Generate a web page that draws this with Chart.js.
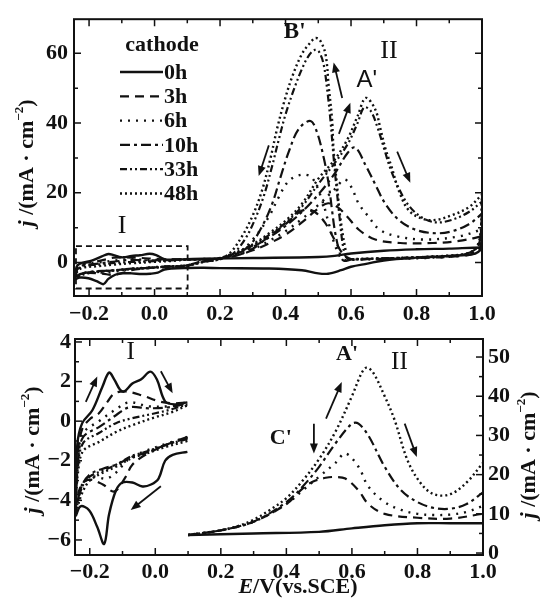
<!DOCTYPE html>
<html><head><meta charset="utf-8">
<script src="https://cdn.jsdelivr.net/npm/chart.js@4.4.1/dist/chart.umd.min.js"></script>
<style>
html,body{margin:0;padding:0;background:#fff;width:545px;height:601px;overflow:hidden}
canvas{position:absolute;left:0}
</style></head>
<body>
<canvas id="cTop" width="545" height="340" style="top:0px"></canvas>
<canvas id="cBot" width="545" height="281" style="top:320px"></canvas>
<script>
// ---------- series names and tick labels ----------
const SERIES = ['0h','3h','6h','10h','33h','48h'];
const BOT_SERIES = ['0h','3h','6h','10h','48h'];
const X_TICKS = [-0.2, 0.0, 0.2, 0.4, 0.6, 0.8, 1.0];
const X_MINOR = [-0.1, 0.1, 0.3, 0.5, 0.7, 0.9];
const TOP_Y_TICKS = [0, 20, 40, 60];
const TOP_Y_MINOR = [10, 30, 50];
const BOT_YL_TICKS = [-6, -4, -2, 0, 2, 4];
const BOT_YL_MINOR = [-5, -3, -1, 1, 3];
const BOT_YR_TICKS = [0, 10, 20, 30, 40, 50];
const BOT_YR_MINOR = [5, 15, 25, 35, 45];

// ---------- region I (E from -0.24 to 0.1 V), [E, j] ----------
const I_fwd_0h = [[-0.243,-4.4],[-0.238,-1.2],[-0.223,-0.1],[-0.192,0.55],[-0.161,1.75],[-0.141,2.45],[-0.125,2.1],[-0.108,1.6],[-0.095,1.5],[-0.07,1.9],[-0.044,2.1],[-0.015,2.5],[0.005,2.1],[0.03,1.0],[0.06,0.85],[0.098,0.95]];
const I_rev_0h = [[0.098,-1.55],[0.053,-1.7],[0.03,-2.0],[0.01,-2.9],[-0.013,-3.2],[-0.039,-3.3],[-0.07,-3.1],[-0.1,-3.1],[-0.12,-3.5],[-0.141,-4.7],[-0.156,-6.2],[-0.177,-5.35],[-0.202,-4.5],[-0.228,-4.3],[-0.243,-4.8]];
const I_fwd_3h = [[-0.243,-3.8],[-0.236,-1.5],[-0.223,-0.4],[-0.2,0.1],[-0.172,0.4],[-0.145,1.0],[-0.125,1.4],[-0.09,1.5],[-0.04,1.3],[0.012,1.0],[0.053,0.9],[0.098,0.95]];
const I_rev_3h = [[0.098,-0.8],[0.032,-1.2],[-0.03,-1.7],[-0.07,-2.2],[-0.09,-2.8],[-0.125,-3.55],[-0.16,-3.2],[-0.2,-2.95],[-0.225,-3.2],[-0.243,-4.2]];
const I_fwd_6h = [[-0.243,-4.0],[-0.236,-1.8],[-0.22,-0.6],[-0.172,0.0],[-0.12,0.6],[-0.08,0.95],[-0.02,0.75],[0.04,0.75],[0.098,0.9]];
const I_rev_6h = [[0.098,-0.8],[0.032,-1.15],[-0.03,-1.5],[-0.08,-1.9],[-0.12,-2.6],[-0.15,-2.9],[-0.19,-2.8],[-0.22,-3.1],[-0.243,-4.3]];
const I_fwd_10h = [[-0.243,-4.2],[-0.236,-2.0],[-0.22,-0.8],[-0.172,-0.3],[-0.12,0.3],[-0.08,0.7],[-0.02,0.65],[0.04,0.7],[0.098,0.9]];
const I_rev_10h = [[0.098,-0.85],[0.032,-1.2],[-0.03,-1.6],[-0.07,-1.8],[-0.12,-2.2],[-0.16,-2.4],[-0.2,-2.7],[-0.225,-3.3],[-0.243,-4.5]];
const I_fwd_33h = [[-0.243,-4.3],[-0.236,-2.3],[-0.22,-1.1],[-0.172,-0.6],[-0.12,-0.1],[-0.07,0.15],[0.0,0.4],[0.05,0.6],[0.098,0.85]];
const I_rev_33h = [[0.098,-0.9],[0.032,-1.2],[-0.03,-1.55],[-0.07,-1.75],[-0.12,-2.2],[-0.16,-2.5],[-0.2,-2.8],[-0.225,-3.4],[-0.243,-4.6]];
const I_fwd_48h = [[-0.243,-4.4],[-0.236,-2.6],[-0.22,-1.5],[-0.172,-1.05],[-0.12,-0.55],[-0.07,-0.2],[0.0,0.2],[0.05,0.45],[0.098,0.8]];
const I_rev_48h = [[0.098,-1.0],[0.032,-1.3],[-0.03,-1.65],[-0.07,-1.85],[-0.12,-2.3],[-0.16,-2.6],[-0.2,-3.0],[-0.225,-3.7],[-0.243,-4.7]];

// ---------- region II, upper panel (full cycle), [E, j] ----------
const II_fwd_0h = [[0.15,1.1],[0.3,1.3],[0.5,1.6],[0.55,1.9],[0.6,2.6],[0.7,3.4],[0.8,3.8],[0.9,4.0],[1.0,4.3]];
const II_rev_0h = [[1.0,4.0],[0.98,2.6],[0.9,1.9],[0.8,1.4],[0.7,0.6],[0.65,-0.3],[0.6,-1.2],[0.57,-2.2],[0.53,-3.2],[0.5,-3.1],[0.45,-2.2],[0.35,-1.7],[0.2,-1.6],[0.15,-1.5]];
const II_fwd_3h = [[0.15,1.0],[0.2,1.2],[0.25,2.0],[0.3,3.5],[0.35,5.5],[0.4,8.0],[0.45,11.5],[0.5,15.5],[0.53,17.0],[0.56,15.8],[0.59,13.0],[0.624,9.4],[0.674,6.6],[0.75,5.6],[0.85,5.6],[0.93,6.2],[1.0,7.5]];
const II_rev_3h = [[1.0,7.5],[0.99,3.5],[0.95,2.0],[0.8,1.3],[0.65,1.0],[0.6,1.0],[0.575,2.5],[0.55,6.5],[0.52,11.5],[0.49,14.5],[0.465,15.2],[0.44,14.3],[0.4,11.0],[0.35,7.5],[0.3,4.0],[0.25,2.0],[0.15,0.5]];
const II_fwd_6h = [[0.15,1.0],[0.2,1.1],[0.25,2.2],[0.3,3.8],[0.35,6.2],[0.4,9.0],[0.45,12.5],[0.5,16.5],[0.55,21.0],[0.58,23.8],[0.6,21.8],[0.624,16.8],[0.654,13.1],[0.685,9.6],[0.736,7.6],[0.825,6.6],[0.93,7.5],[1.0,9.5]];
const II_rev_6h = [[1.0,9.5],[0.99,4.0],[0.95,2.2],[0.85,1.4],[0.7,1.0],[0.6,0.8],[0.573,1.0],[0.552,4.7],[0.532,11.2],[0.512,17.8],[0.481,24.3],[0.45,25.2],[0.41,23.4],[0.379,18.7],[0.349,13.1],[0.308,7.5],[0.257,2.8],[0.2,1.0],[0.15,0.3]];
const II_fwd_10h = [[0.15,0.9],[0.2,1.2],[0.25,2.5],[0.3,4.5],[0.35,7.2],[0.4,10.5],[0.45,14.5],[0.5,19.5],[0.55,25.5],[0.59,31.5],[0.613,33.0],[0.644,28.0],[0.674,22.4],[0.705,16.8],[0.746,12.2],[0.797,9.4],[0.858,8.4],[0.909,9.0],[0.96,11.0],[1.0,14.0]];
const II_rev_10h = [[1.0,14.0],[0.99,5.0],[0.95,2.5],[0.85,1.6],[0.7,1.2],[0.6,0.8],[0.578,0.5],[0.568,1.9],[0.552,8.4],[0.542,15.0],[0.532,22.4],[0.517,29.9],[0.496,37.4],[0.476,40.6],[0.44,38.3],[0.41,31.8],[0.384,24.3],[0.359,16.8],[0.328,10.3],[0.288,4.7],[0.236,2.0],[0.18,0.8],[0.15,0.3]];
const II_fwd_33h = [[0.15,0.9],[0.2,1.3],[0.25,2.8],[0.3,4.9],[0.35,7.9],[0.4,11.4],[0.45,16.0],[0.5,22.5],[0.55,28.5],[0.59,34.0],[0.62,40.0],[0.64,44.5],[0.66,43.5],[0.68,39.0],[0.7,33.0],[0.72,27.0],[0.745,21.5],[0.775,16.5],[0.815,13.0],[0.86,11.5],[0.91,12.3],[0.96,14.5],[1.0,17.5]];
const II_rev_33h = [[1.0,17.5],[0.995,7.0],[0.98,3.8],[0.95,2.4],[0.9,1.9],[0.8,1.5],[0.7,1.2],[0.6,1.0],[0.585,1.5],[0.575,5.0],[0.565,13.0],[0.555,22.0],[0.546,31.0],[0.538,40.0],[0.528,49.0],[0.516,57.0],[0.502,60.5],[0.49,61.0],[0.472,59.5],[0.45,55.5],[0.425,49.5],[0.4,42.5],[0.38,35.5],[0.36,28.0],[0.335,19.5],[0.305,12.0],[0.275,6.5],[0.24,2.6],[0.2,0.9],[0.15,0.2]];
const II_fwd_48h = [[0.15,0.9],[0.2,1.3],[0.25,3.0],[0.3,5.2],[0.35,8.4],[0.4,12.0],[0.45,16.8],[0.5,24.0],[0.55,29.5],[0.59,35.5],[0.62,42.0],[0.645,47.2],[0.674,43.9],[0.69,38.3],[0.705,32.7],[0.725,27.1],[0.746,20.6],[0.776,15.0],[0.817,12.6],[0.858,12.2],[0.909,13.6],[0.96,15.9],[1.0,19.5]];
const II_rev_48h = [[1.0,19.5],[0.995,8.0],[0.98,4.0],[0.95,2.5],[0.9,2.0],[0.8,1.5],[0.7,1.2],[0.61,1.0],[0.593,0.8],[0.583,3.75],[0.567,13.1],[0.557,22.4],[0.547,31.8],[0.542,41.1],[0.532,50.4],[0.522,59.8],[0.505,63.8],[0.491,64.4],[0.475,63.0],[0.45,59.8],[0.42,53.2],[0.395,45.8],[0.374,38.3],[0.354,29.9],[0.328,20.6],[0.298,13.1],[0.267,7.5],[0.231,2.8],[0.196,0.95],[0.15,0.2]];

// ---------- region II, lower panel (anodic sweep, right axis), [E, j] ----------
const B_fwd_0h = [[0.1,4.6],[0.3,5.0],[0.5,5.4],[0.6,6.3],[0.7,7.1],[0.8,7.6],[0.9,7.6],[1.0,7.6]];
const B_fwd_3h = [[0.1,4.6],[0.2,5.8],[0.3,8.0],[0.4,12.5],[0.45,16.5],[0.48,18.2],[0.52,19.2],[0.55,19.4],[0.58,19.0],[0.62,16.0],[0.65,12.5],[0.7,10.0],[0.8,9.0],[0.9,8.8],[1.0,10.0]];
const B_fwd_6h = [[0.1,4.6],[0.2,5.8],[0.3,8.0],[0.4,12.5],[0.45,16.0],[0.5,19.5],[0.55,23.0],[0.58,25.4],[0.62,22.0],[0.65,17.0],[0.7,13.0],[0.75,11.0],[0.8,10.0],[0.85,9.7],[0.9,9.8],[0.95,10.5],[1.0,12.0]];
const B_fwd_10h = [[0.1,4.6],[0.2,5.8],[0.3,8.0],[0.4,13.0],[0.45,17.0],[0.5,22.0],[0.55,28.0],[0.6,33.0],[0.62,33.0],[0.65,30.0],[0.7,22.0],[0.75,16.0],[0.8,13.0],[0.85,11.5],[0.9,11.3],[0.95,12.5],[1.0,15.5]];
const B_fwd_48h = [[0.1,4.6],[0.2,5.8],[0.25,6.8],[0.3,8.5],[0.35,11.0],[0.4,14.0],[0.45,18.5],[0.5,24.0],[0.55,31.0],[0.6,40.0],[0.63,46.0],[0.645,47.3],[0.665,46.0],[0.7,40.0],[0.73,34.0],[0.77,23.6],[0.81,17.8],[0.85,15.0],[0.9,15.0],[0.95,18.0],[1.0,23.0]];

// ---------- tables built from the arrays ----------
const I_FWD = {'0h':I_fwd_0h,'3h':I_fwd_3h,'6h':I_fwd_6h,'10h':I_fwd_10h,'33h':I_fwd_33h,'48h':I_fwd_48h};
const I_REV = {'0h':I_rev_0h,'3h':I_rev_3h,'6h':I_rev_6h,'10h':I_rev_10h,'33h':I_rev_33h,'48h':I_rev_48h};
const II_FWD = {'0h':II_fwd_0h,'3h':II_fwd_3h,'6h':II_fwd_6h,'10h':II_fwd_10h,'33h':II_fwd_33h,'48h':II_fwd_48h};
const II_REV = {'0h':II_rev_0h,'3h':II_rev_3h,'6h':II_rev_6h,'10h':II_rev_10h,'33h':II_rev_33h,'48h':II_rev_48h};
const B_FWD = {'0h':B_fwd_0h,'3h':B_fwd_3h,'6h':B_fwd_6h,'10h':B_fwd_10h,'48h':B_fwd_48h};

// ---------- styles ----------
const INK = '#111';
const SERIF = '"Liberation Serif","Times New Roman",serif';
const SANS = '"Liberation Sans",Arial,sans-serif';
const STYLE = {
  '0h': {dash: [], w: 2.4},
  '3h': {dash: [9,6], w: 2.2},
  '6h': {dash: [2,6], w: 2.4},
  '10h': {dash: [10,4,3,4], w: 2.2},
  '33h': {dash: [7,3,2,3,2,3], w: 2.2},
  '48h': {dash: [2,3], w: 2.4}
};
const toXY = a => a.map(([x, y]) => ({x, y}));
const fmtX = v => (v < 0 ? '\u2212' : '') + Math.abs(v).toFixed(1);
const fmtY = v => (v < 0 ? '\u2212' : '') + Math.abs(v);
const tickFont = {family: SERIF, size: 22, weight: 'bold'};

function ds(label, pts, s, axis) {
  const d = {label, data: toXY(pts), borderColor: INK, borderWidth: STYLE[s].w, borderDash: STYLE[s].dash,
    pointRadius: 0, tension: 0.35, fill: false, borderCapStyle: 'butt'};
  if (axis) d.yAxisID = axis;
  return d;
}

function drawRich(ctx, parts, cx, cy, rot) {
  ctx.save(); ctx.translate(cx, cy); ctx.rotate(rot);
  let w = 0;
  parts.forEach(p => { ctx.font = p.f; w += ctx.measureText(p.t).width; });
  let x = -w / 2;
  ctx.textBaseline = 'middle'; ctx.textAlign = 'left'; ctx.fillStyle = INK;
  parts.forEach(p => { ctx.font = p.f; ctx.fillText(p.t, x, p.dy || 0); x += ctx.measureText(p.t).width; });
  ctx.restore();
}
const J_TITLE = [
  {t: 'j', f: 'italic bold 22px ' + SERIF},
  {t: ' /(mA \u00b7 cm', f: 'bold 22px ' + SERIF},
  {t: '\u22122', f: 'bold 13px ' + SERIF, dy: -7},
  {t: ')', f: 'bold 22px ' + SERIF}
];
const E_TITLE = [
  {t: 'E', f: 'italic bold 22px ' + SERIF},
  {t: '/V(vs.SCE)', f: 'bold 22px ' + SERIF}
];

function arrow(ctx, x1, y1, x2, y2) {
  const a = Math.atan2(y2 - y1, x2 - x1), L = 10, H = 4;
  ctx.beginPath(); ctx.moveTo(x1, y1);
  ctx.lineTo(x2 - L * 0.7 * Math.cos(a), y2 - L * 0.7 * Math.sin(a)); ctx.stroke();
  ctx.beginPath(); ctx.moveTo(x2, y2);
  ctx.lineTo(x2 - L * Math.cos(a) + H * Math.sin(a), y2 - L * Math.sin(a) - H * Math.cos(a));
  ctx.lineTo(x2 - L * Math.cos(a) - H * Math.sin(a), y2 - L * Math.sin(a) + H * Math.cos(a));
  ctx.closePath(); ctx.fill();
}

const decor = {
  id: 'decor',
  afterDatasetsDraw(chart, args, o) {
    const {ctx, chartArea: a} = chart;
    const X = chart.scales.x;
    ctx.save();
    ctx.strokeStyle = INK; ctx.fillStyle = INK; ctx.setLineDash([]);
    ctx.lineWidth = 2;
    ctx.strokeRect(a.left, a.top, a.right - a.left, a.bottom - a.top);
    ctx.lineWidth = 1.5;
    (o.ticks || []).forEach(t => {
      const s = chart.scales[t.axis];
      const draw = (vals, len) => vals.forEach(v => {
        const p = s.getPixelForValue(v);
        ctx.beginPath();
        t.edges.forEach(e => {
          if (e === 'bottom') { ctx.moveTo(p, a.bottom); ctx.lineTo(p, a.bottom - len); }
          if (e === 'top') { ctx.moveTo(p, a.top); ctx.lineTo(p, a.top + len); }
          if (e === 'left') { ctx.moveTo(a.left, p); ctx.lineTo(a.left + len, p); }
          if (e === 'right') { ctx.moveTo(a.right, p); ctx.lineTo(a.right - len, p); }
        });
        ctx.stroke();
      });
      draw(t.major, 7); draw(t.minor, 4);
    });
    if (o.box) {
      const Y = chart.scales[o.box.axis];
      const x1 = X.getPixelForValue(o.box.x1), x2 = X.getPixelForValue(o.box.x2);
      const y1 = Y.getPixelForValue(o.box.y1), y2 = Y.getPixelForValue(o.box.y2);
      ctx.lineWidth = 1.8; ctx.setLineDash([6, 4]);
      ctx.strokeRect(x1, y2, x2 - x1, y1 - y2);
      ctx.setLineDash([]);
    }
    ctx.lineWidth = 1.8;
    (o.arrows || []).forEach(r => {
      const Y = chart.scales[r.axis];
      arrow(ctx, X.getPixelForValue(r.x1), Y.getPixelForValue(r.y1), X.getPixelForValue(r.x2), Y.getPixelForValue(r.y2));
    });
    ctx.textAlign = 'center'; ctx.textBaseline = 'middle';
    (o.labels || []).forEach(l => {
      const Y = chart.scales[l.axis];
      ctx.font = l.font;
      ctx.fillText(l.t, X.getPixelForValue(l.x), Y.getPixelForValue(l.y));
    });
    if (o.legend) {
      const g = o.legend;
      ctx.font = 'bold 22px ' + SERIF; ctx.textAlign = 'center';
      ctx.fillText(g.title, a.left + g.titleDx, g.titleY);
      ctx.textAlign = 'left';
      SERIES.forEach((s, i) => {
        const y = g.y0 + i * g.dy;
        ctx.lineWidth = STYLE[s].w; ctx.setLineDash(STYLE[s].dash);
        ctx.beginPath(); ctx.moveTo(a.left + g.x0, y); ctx.lineTo(a.left + g.x1, y); ctx.stroke();
        ctx.setLineDash([]);
        ctx.fillText(s, a.left + g.x1 + 1, y + 1);
      });
    }
    (o.titles || []).forEach(t => drawRich(ctx, t.parts, t.x, t.y, t.rot));
    ctx.restore();
  }
};

const gridOff = {display: false, drawTicks: false};

// ---------- upper chart ----------
const topData = SERIES.map(s => ds(s, [...I_FWD[s], ...II_FWD[s], ...II_REV[s], ...I_REV[s]], s));
new Chart(document.getElementById('cTop'), {
  type: 'line',
  data: {datasets: topData},
  plugins: [decor],
  options: {
    responsive: false, animation: false, devicePixelRatio: 1,
    layout: {padding: {top: 13, right: 63, left: 0, bottom: 0}},
    plugins: {
      legend: {display: false}, tooltip: {enabled: false},
      decor: {
        ticks: [
          {axis: 'x', major: X_TICKS, minor: X_MINOR, edges: ['bottom', 'top']},
          {axis: 'y', major: TOP_Y_TICKS, minor: TOP_Y_MINOR, edges: ['left', 'right']}
        ],
        box: {axis: 'y', x1: -0.24, x2: 0.101, y1: -7.45, y2: 4.7},
        arrows: [
          {axis: 'y', x1: 0.349, y1: 33.6, x2: 0.318, y2: 24.8},
          {axis: 'y', x1: 0.573, y1: 47.2, x2: 0.547, y2: 57.4},
          {axis: 'y', x1: 0.563, y1: 36.9, x2: 0.598, y2: 45.8},
          {axis: 'y', x1: 0.741, y1: 31.8, x2: 0.781, y2: 22.9}
        ],
        labels: [
          {t: "B'", x: 0.428, y: 66, axis: 'y', font: 'bold 23px ' + SERIF},
          {t: 'II', x: 0.716, y: 60.7, axis: 'y', font: '26px ' + SERIF},
          {t: "A'", x: 0.648, y: 52.3, axis: 'y', font: '24px ' + SANS},
          {t: 'I', x: -0.099, y: 10.3, axis: 'y', font: '26px ' + SERIF}
        ],
        legend: {title: 'cathode', titleDx: 88, titleY: 45, x0: 46, x1: 89, y0: 72, dy: 24.3},
        titles: [{parts: J_TITLE, x: 27, y: 163, rot: -Math.PI / 2}]
      }
    },
    scales: {
      x: {
        type: 'linear', min: -0.246, max: 1.0,
        afterBuildTicks: s => { s.ticks = X_TICKS.map(v => ({value: v})); },
        afterFit: s => { s.height = 44; },
        grid: gridOff, border: {display: false},
        ticks: {font: tickFont, color: INK, padding: 5, maxRotation: 0, autoSkip: false, callback: v => fmtX(v)}
      },
      y: {
        type: 'linear', min: -9.6, max: 69.8,
        afterBuildTicks: s => { s.ticks = TOP_Y_TICKS.map(v => ({value: v})); },
        afterFit: s => { s.width = 74; },
        grid: gridOff, border: {display: false},
        ticks: {font: tickFont, color: INK, padding: 6, callback: v => fmtY(v)}
      }
    }
  }
});

// ---------- lower chart ----------
const botData = [];
SERIES.forEach(s => {
  botData.push(ds(s + ' I+', I_FWD[s], s, 'yL'));
  botData.push(ds(s + ' I-', I_REV[s], s, 'yL'));
});
BOT_SERIES.forEach(s => botData.push(ds(s + ' II', B_FWD[s], s, 'yR')));

new Chart(document.getElementById('cBot'), {
  type: 'line',
  data: {datasets: botData},
  plugins: [decor],
  options: {
    responsive: false, animation: false, devicePixelRatio: 1,
    layout: {padding: {top: 19, right: 0, left: 0, bottom: 0}},
    plugins: {
      legend: {display: false}, tooltip: {enabled: false},
      decor: {
        ticks: [
          {axis: 'x', major: X_TICKS, minor: X_MINOR, edges: ['bottom', 'top']},
          {axis: 'yL', major: BOT_YL_TICKS, minor: BOT_YL_MINOR, edges: ['left']},
          {axis: 'yR', major: BOT_YR_TICKS, minor: BOT_YR_MINOR, edges: ['right']}
        ],
        arrows: [
          {axis: 'yL', x1: -0.212, y1: 0.98, x2: -0.177, y2: 2.26},
          {axis: 'yL', x1: 0.017, y1: 2.52, x2: 0.053, y2: 1.41},
          {axis: 'yL', x1: 0.017, y1: -3.29, x2: -0.075, y2: -4.49},
          {axis: 'yR', x1: 0.484, y1: 33, x2: 0.484, y2: 25.4},
          {axis: 'yR', x1: 0.521, y1: 34.3, x2: 0.569, y2: 43.6},
          {axis: 'yR', x1: 0.761, y1: 33, x2: 0.798, y2: 24.5}
        ],
        labels: [
          {t: 'I', x: -0.075, y: 3.46, axis: 'yL', font: '25px ' + SERIF},
          {t: "A'", x: 0.585, y: 50.8, axis: 'yR', font: 'bold 22px ' + SERIF},
          {t: 'II', x: 0.745, y: 48.6, axis: 'yR', font: '25px ' + SERIF},
          {t: "C'", x: 0.383, y: 29.2, axis: 'yR', font: 'bold 22px ' + SERIF}
        ],
        titles: [
          {parts: J_TITLE, x: 33, y: 130, rot: -Math.PI / 2},
          {parts: J_TITLE, x: 529, y: 135, rot: -Math.PI / 2},
          {parts: E_TITLE, x: 298, y: 267, rot: 0}
        ]
      }
    },
    scales: {
      x: {
        type: 'linear', min: -0.245, max: 1.0,
        afterBuildTicks: s => { s.ticks = X_TICKS.map(v => ({value: v})); },
        afterFit: s => { s.height = 46; },
        grid: gridOff, border: {display: false},
        ticks: {font: tickFont, color: INK, padding: 4, maxRotation: 0, autoSkip: false, callback: v => fmtX(v)}
      },
      yL: {
        type: 'linear', position: 'left', min: -6.76, max: 4.15,
        afterBuildTicks: s => { s.ticks = BOT_YL_TICKS.map(v => ({value: v})); },
        afterFit: s => { s.width = 75; },
        grid: gridOff, border: {display: false},
        ticks: {font: tickFont, color: INK, padding: 4, callback: v => fmtY(v)}
      },
      yR: {
        type: 'linear', position: 'right', min: -0.5, max: 54.6,
        afterBuildTicks: s => { s.ticks = BOT_YR_TICKS.map(v => ({value: v})); },
        afterFit: s => { s.width = 62; },
        grid: gridOff, border: {display: false},
        ticks: {font: tickFont, color: INK, padding: 5, callback: v => fmtY(v)}
      }
    }
  }
});
</script>
</body></html>
